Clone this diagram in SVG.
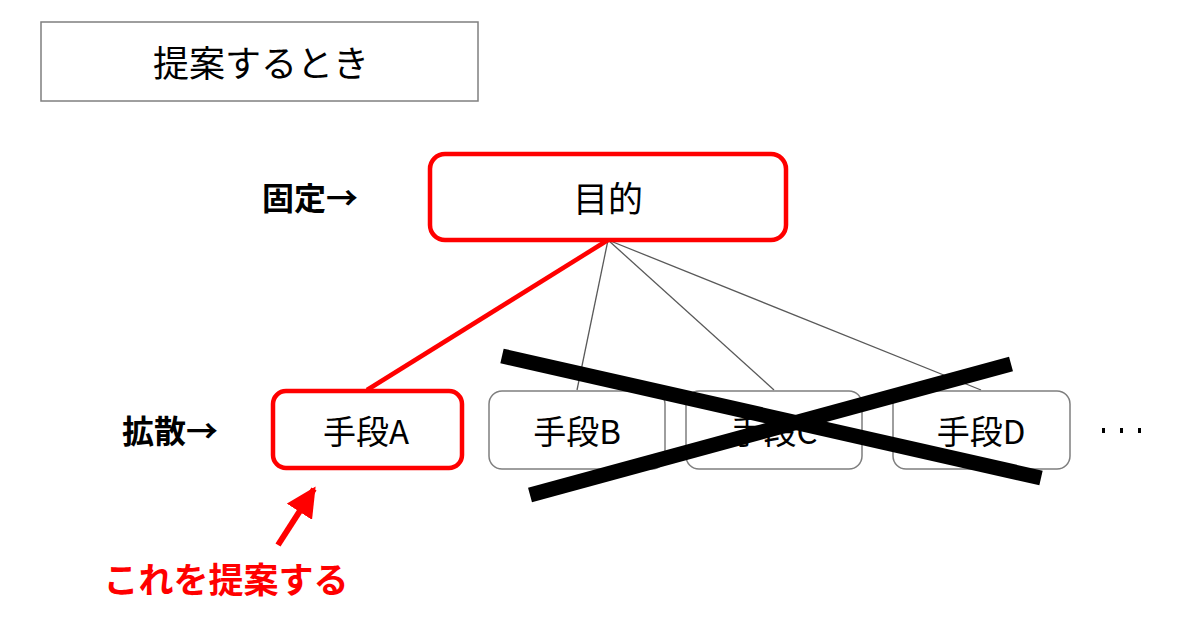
<svg xmlns="http://www.w3.org/2000/svg" width="1200" height="637" viewBox="0 0 1200 637">
<style>
text{font-family:"Noto Sans CJK JP","Noto Sans",sans-serif;fill:#000}
.lbl{font-size:33px;text-anchor:middle}
.side{font-size:32px;text-anchor:middle;font-weight:bold}
.gbox{fill:#fff;stroke:#7f7f7f;stroke-width:1.5}
.rbox{fill:#fff;stroke:#ff0000;stroke-width:4.5}
.thin{stroke:#595959;stroke-width:1.3;fill:none}
.cross{stroke:#000;stroke-width:15;stroke-linecap:butt}
</style>
<defs>
<marker id="ah" viewBox="0 0 10 10" refX="9" refY="5" markerWidth="5" markerHeight="5" orient="auto" markerUnits="strokeWidth">
<path d="M0,0 L10,5 L0,10 z" fill="#ff0000"/>
</marker>
</defs>
<g id="title">
<rect x="41" y="22" width="437" height="79" fill="#fff" stroke="#7f7f7f" stroke-width="1.5"/>
<text x="261" y="77" style="font-size:36px;text-anchor:middle">提案するとき</text>
</g>
<g id="connectors">
<line class="thin" x1="608" y1="240" x2="577" y2="390"/>
<line class="thin" x1="608" y1="240" x2="774" y2="390"/>
<line class="thin" x1="608" y1="240" x2="981" y2="390"/>
<line x1="608" y1="240" x2="367" y2="390" stroke="#ff0000" stroke-width="4.5"/>
</g>
<g id="label-fixed"><text x="310" y="210" class="side">固定→</text></g>
<g id="label-diverge"><text x="170" y="443" class="side">拡散→</text></g>
<g id="goal">
<rect class="rbox" x="430" y="154" width="356" height="86" rx="15"/>
<text x="608" y="212" style="font-size:35px;text-anchor:middle">目的</text>
</g>
<g id="meansA">
<rect class="rbox" x="273" y="391" width="189" height="77" rx="13"/>
<text x="366" y="444" class="lbl">手段A</text>
</g>
<g id="meansB">
<rect class="gbox" x="489" y="391" width="176" height="78" rx="13"/>
<text x="577" y="444" class="lbl">手段B</text>
</g>
<g id="meansC">
<rect class="gbox" x="686" y="391" width="176" height="78" rx="13"/>
<text x="774" y="444" class="lbl">手段C</text>
</g>
<g id="meansD">
<rect class="gbox" x="893" y="391" width="177" height="78" rx="13"/>
<text x="981" y="444" class="lbl">手段D</text>
</g>
<g id="ellipsis">
<rect x="1102" y="428" width="3" height="5" fill="#000"/>
<rect x="1120" y="428" width="3" height="5" fill="#000"/>
<rect x="1138" y="428" width="3" height="5" fill="#000"/>
</g>
<g id="cross">
<line class="cross" x1="502" y1="356" x2="1041" y2="478"/>
<line class="cross" x1="530" y1="495" x2="1011" y2="364"/>
</g>
<g id="pointer">
<line x1="278" y1="545" x2="314" y2="489" stroke="#ff0000" stroke-width="6" marker-end="url(#ah)"/>
<text x="226" y="593" style="font-size:35px;text-anchor:middle;font-weight:bold;fill:#ff0000">これを提案する</text>
</g>
</svg>
